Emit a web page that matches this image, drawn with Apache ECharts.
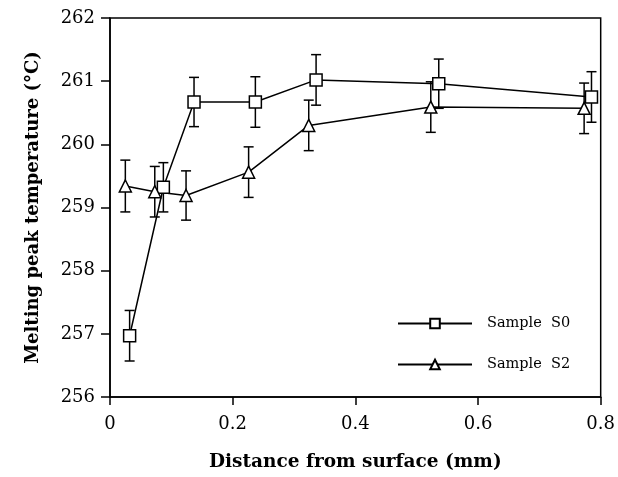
<!DOCTYPE html>
<html>
<head>
<meta charset="utf-8">
<script src="https://cdn.jsdelivr.net/npm/echarts@6/dist/echarts.min.js"></script>
<style>
  html, body { margin: 0; padding: 0; background: #fff; }
  #grafico { width: 618px; height: 477px; }
</style>
</head>
<body>
<div id="grafico"></div>
<script>
// Datos
var distanciaS0 = [0.032, 0.087, 0.137, 0.237, 0.336, 0.536, 0.785];
var temperaturaS0 = [256.97, 259.32, 260.67, 260.67, 261.02, 260.96, 260.75];
var errorS0 = [0.4, 0.39, 0.39, 0.4, 0.4, 0.39, 0.4];

var distanciaS2 = [0.025, 0.073, 0.124, 0.226, 0.324, 0.523, 0.773];
var temperaturaS2 = [259.34, 259.25, 259.19, 259.56, 260.3, 260.59, 260.57];
var errorS2 = [0.41, 0.4, 0.39, 0.4, 0.4, 0.4, 0.4];

var ticksX = [0, 0.2, 0.4, 0.6, 0.8];
var ticksY = [256, 257, 258, 259, 260, 261, 262];

var fuente = 'DejaVu Serif';

function puntos(xs, ys) {
  return xs.map(function (x, i) { return [x, ys[i]]; });
}

function barrasError(xs, ys, errs) {
  return xs.map(function (x, i) { return [x, ys[i] - errs[i], ys[i] + errs[i]]; });
}

// Dibuja la barra de error con sus topes
function dibujarError(params, api) {
  var abajo = api.coord([api.value(0), api.value(1)]);
  var arriba = api.coord([api.value(0), api.value(2)]);
  var w = 5;
  var estilo = { stroke: '#000', lineWidth: 1.5 };
  return {
    type: 'group',
    children: [
      { type: 'line', shape: { x1: arriba[0], y1: arriba[1], x2: abajo[0], y2: abajo[1] }, style: estilo },
      { type: 'line', shape: { x1: arriba[0] - w, y1: arriba[1], x2: arriba[0] + w, y2: arriba[1] }, style: estilo },
      { type: 'line', shape: { x1: abajo[0] - w, y1: abajo[1], x2: abajo[0] + w, y2: abajo[1] }, style: estilo }
    ]
  };
}

var grafico = echarts.init(document.getElementById('grafico'));

var option = {
  animation: false,
  backgroundColor: '#fff',
  grid: {
    left: 110, right: 17, top: 18, bottom: 80,
    show: true, borderColor: '#000', borderWidth: 1.5
  },
  legend: {
    orient: 'vertical',
    left: 392, top: 311,
    itemWidth: 74, itemHeight: 12, itemGap: 26,
    textStyle: { fontFamily: fuente, fontSize: 14.5, color: '#000', padding: [0, 0, 0, 10] },
    data: ['Sample  S0', 'Sample  S2']
  },
  xAxis: {
    type: 'value',
    min: 0, max: 0.8, interval: 0.2,
    name: 'Distance from surface (mm)',
    nameLocation: 'middle', nameGap: 56,
    nameTextStyle: { fontFamily: fuente, fontSize: 18.5, fontWeight: 'bold', color: '#000' },
    axisLine: { lineStyle: { color: '#000', width: 1.5 } },
    axisTick: { length: 8, lineStyle: { color: '#000', width: 1.5 } },
    axisLabel: {
      fontFamily: fuente, fontSize: 18, color: '#000', margin: 18,
      formatter: function (v) { return ticksX.indexOf(v) >= 0 ? String(v) : ''; }
    },
    splitLine: { show: false }
  },
  yAxis: {
    type: 'value',
    min: 256, max: 262, interval: 1,
    name: 'Melting peak temperature (°C)',
    nameLocation: 'middle', nameGap: 68,
    nameTextStyle: { fontFamily: fuente, fontSize: 18, fontWeight: 'bold', color: '#000' },
    axisLine: { lineStyle: { color: '#000', width: 1.5 } },
    axisTick: { length: 9, lineStyle: { color: '#000', width: 1.5 } },
    axisLabel: {
      fontFamily: fuente, fontSize: 18, color: '#000', margin: 15,
      formatter: function (v) { return ticksY.indexOf(v) >= 0 ? String(v) : ''; }
    },
    splitLine: { show: false }
  },
  series: [
    {
      name: 'errS0', type: 'custom', renderItem: dibujarError, z: 1,
      data: barrasError(distanciaS0, temperaturaS0, errorS0)
    },
    {
      name: 'errS2', type: 'custom', renderItem: dibujarError, z: 1,
      data: barrasError(distanciaS2, temperaturaS2, errorS2)
    },
    {
      name: 'Sample  S0', type: 'line', z: 3,
      data: puntos(distanciaS0, temperaturaS0),
      symbol: 'rect', symbolSize: 12, showAllSymbol: true,
      lineStyle: { color: '#000', width: 1.5 },
      itemStyle: { color: '#fff', borderColor: '#000', borderWidth: 1.5 }
    },
    {
      name: 'Sample  S2', type: 'line', z: 3,
      data: puntos(distanciaS2, temperaturaS2),
      symbol: 'triangle', symbolSize: 12, showAllSymbol: true,
      lineStyle: { color: '#000', width: 1.5 },
      itemStyle: { color: '#fff', borderColor: '#000', borderWidth: 1.5 }
    }
  ]
};

grafico.setOption(option);
</script>
</body>
</html>
